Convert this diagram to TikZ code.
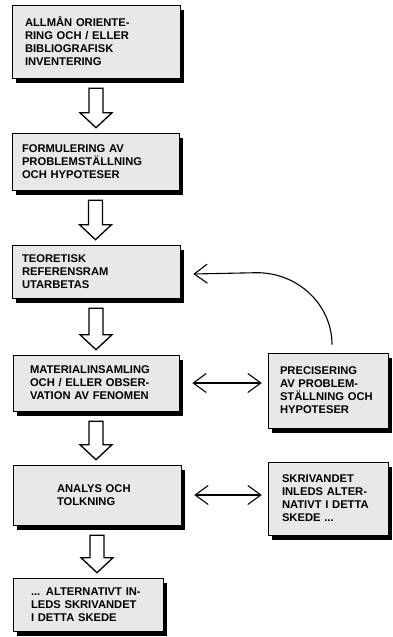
\documentclass[tikz,border=0pt]{standalone}
\usepackage{fontspec}
\newfontfamily\boxfont{Liberation Sans}
\usetikzlibrary{arrows.meta,calc,shadows}

% hollow block arrow from the bottom of one box to the top of the next
\newcommand{\blockarrow}[2]{%
  \draw[line width=1.3pt, fill=white] let \p1=(#1.south), \p2=(#2.north) in
    (\x1-7pt,\y1-10pt) -- (\x1+7pt,\y1-10pt) -- (\x1+7pt,\y2+20pt) -- (\x1+16pt,\y2+20pt)
    -- (\x1,\y2+5pt) -- (\x1-16pt,\y2+20pt) -- (\x1-7pt,\y2+20pt) -- cycle;}

\begin{document}
\begin{tikzpicture}[x=1pt,y=-1pt,
    box/.style={draw, line width=.6pt, fill=black!9, align=left, inner ysep=0pt,
      font=\boxfont\bfseries\fontsize{11.2}{13}\selectfont,
      drop shadow={shadow xshift=4pt, shadow yshift=-5pt, fill=black, opacity=1}},
    link/.style={line width=1.1pt, {Straight Barb[length=13pt,width=19pt]}-{Straight Barb[length=13pt,width=19pt]}},
    back/.style={line width=1.1pt, -{Straight Barb[length=13pt,width=19pt]}}]
  \useasboundingbox (0,0) rectangle (393,637);

  \node[box, minimum width=168pt, minimum height=73pt, inner xsep=13pt, text width=142pt]
    (orient) at (96,41.5) {ALLMÅN ORIENTE-\\RING OCH / ELLER\\BIBLIOGRAFISK\\INVENTERING};
  \node[box, minimum width=167pt, minimum height=57pt, inner xsep=10pt, text width=147pt]
    (formul) at (95.5,161.5) {FORMULERING AV\\PROBLEMSTÄLLNING\\OCH HYPOTESER};
  \node[box, minimum width=168pt, minimum height=53pt, inner xsep=10pt, text width=148pt]
    (teori) at (96,271.5) {TEORETISK\\REFERENSRAM\\UTARBETAS};
  \node[box, minimum width=166pt, minimum height=56pt, inner xsep=17pt, text width=132pt]
    (material) at (96,383) {MATERIALINSAMLING\\OCH / ELLER OBSER-\\VATION AV FENOMEN};
  \node[box, minimum width=120pt, minimum height=75pt, inner xsep=12pt, text width=96pt]
    (precis) at (328,390.5) {PRECISERING\\AV PROBLEM-\\STÄLLNING OCH\\HYPOTESER};
  \node[box, minimum width=168pt, minimum height=60pt, inner xsep=44pt, text width=80pt]
    (analys) at (97,495) {ANALYS OCH\\TOLKNING};
  \node[box, minimum width=120pt, minimum height=73pt, inner xsep=14pt, text width=92pt]
    (skriv) at (328,498.5) {SKRIVANDET\\INLEDS ALTER-\\NATIVT I DETTA\\SKEDE ...};
  \node[box, minimum width=150pt, minimum height=53pt, inner xsep=18pt, text width=114pt]
    (altern) at (88,604.5) {... ALTERNATIVT IN-\\LEDS SKRIVANDET\\I DETTA SKEDE};

  \blockarrow{orient}{formul}
  \blockarrow{formul}{teori}
  \blockarrow{teori}{material}
  \blockarrow{material}{analys}
  \blockarrow{analys}{altern}

  \draw[link] ([xshift=13pt]material.east) -- ([xshift=-6pt]material.east -| precis.west);
  \draw[link] ([xshift=13pt]analys.east) -- ([xshift=-6pt]analys.east -| skriv.west);
  \draw[back] ([shift={(4,-8)}]precis.north) .. controls +(0,-40) and +(41,0) .. ++(-75,-72)
    -- ([xshift=13pt,yshift=-2.5pt]teori.east);
\end{tikzpicture}
\end{document}
